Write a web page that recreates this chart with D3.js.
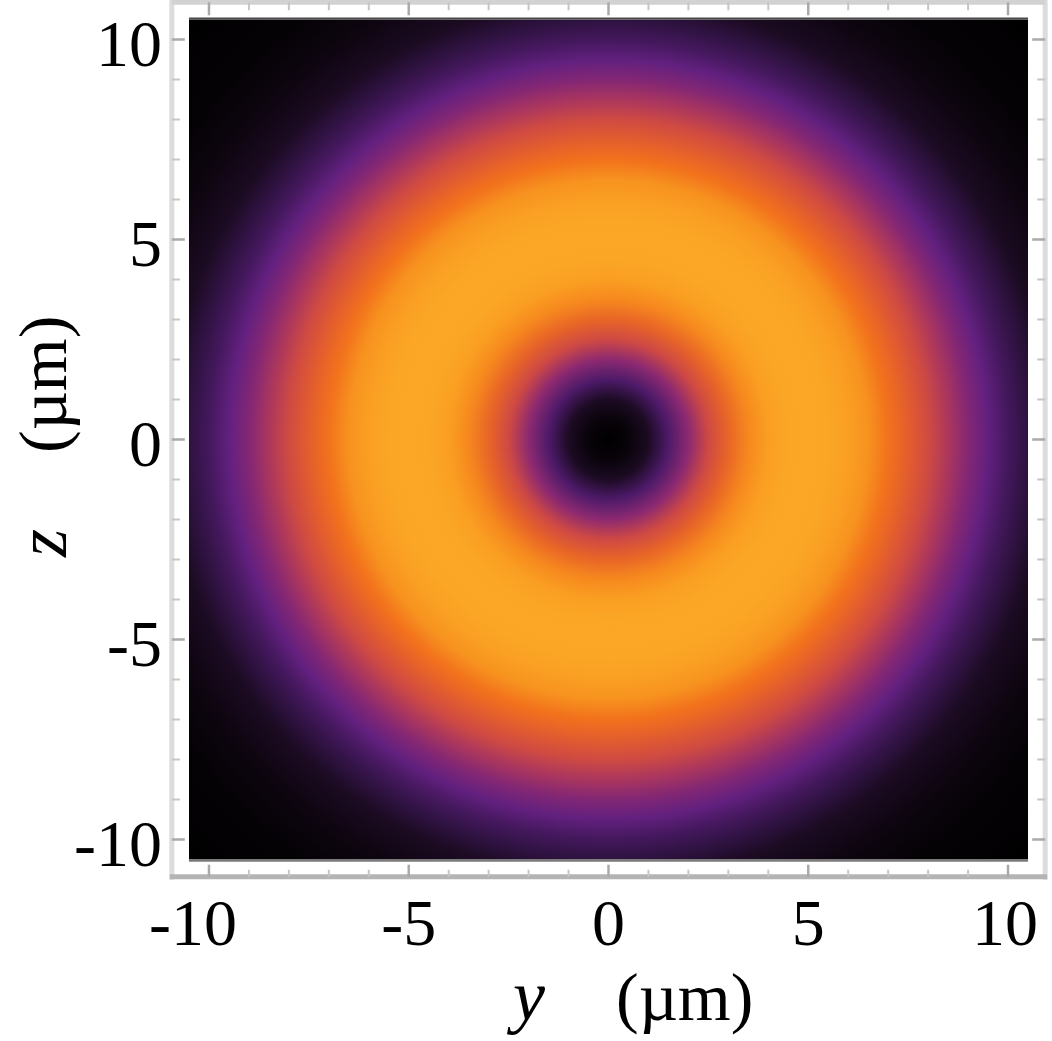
<!DOCTYPE html>
<head>
    <meta charset="utf-8">
    <script src="https://cdnjs.cloudflare.com/ajax/libs/d3/7.8.5/d3.min.js" charset="utf-8"></script>
    <style>
        html, body {
            margin: 0px;
            padding: 0px;
            background: #fff;
        }
        svg {
            display: block;
        }
        text {
            font-family: "Liberation Serif", "Times New Roman", serif;
            fill: #000;
        }
    </style>
</head>

<body>

<svg id="chart1" width="1052" height="1041"></svg>

<script>
// radial intensity profile of the ring (r in µm, peak = 1)
var radii     = [0, 0.5, 1, 1.5, 2, 2.5, 3, 3.5, 4, 4.5, 5, 5.5, 6, 6.5, 7, 7.5, 8, 8.5, 9, 9.5, 10, 10.5, 11, 12, 13, 14, 15];
var intensity = [0, 0.03, 0.10, 0.22, 0.37, 0.53, 0.68, 0.82, 0.92, 0.98, 1.0, 0.98, 0.93, 0.85, 0.75, 0.64, 0.54, 0.44, 0.35, 0.27, 0.20, 0.15, 0.10, 0.05, 0.02, 0.01, 0];

// colour function stops
var colorStops  = [0, 0.08, 0.15, 0.26, 0.38, 0.5, 0.62, 0.75, 0.87, 1];
var colorValues = ["#000000", "#150818", "#2e1240", "#5e1f80", "#902a70", "#c8434a", "#e05a30", "#f2721c", "#f89820", "#fca826"];

var majorTicks  = [-10, -5, 0, 5, 10];
var tickLabels  = ["-10", "-5", "0", "5", "10"];

var plotRange  = [-10.5, 10.5],
    frameRange = [-10.93, 10.93];

var svg = d3.select('#chart1');

var x = d3.scaleLinear().domain(plotRange).range([189, 1028]);
var y = d3.scaleLinear().domain(plotRange).range([859.5, 19.5]);
var color = d3.scaleLinear().domain(colorStops).range(colorValues);

// density as a radial gradient built from the profile
var rMax = radii[radii.length - 1];
var grad = svg.append('defs').append('radialGradient')
    .attr('id', 'ring')
    .attr('gradientUnits', 'userSpaceOnUse')
    .attr('cx', x(0)).attr('cy', y(0))
    .attr('fx', x(0)).attr('fy', y(0))
    .attr('r', x(rMax) - x(0));

grad.selectAll('stop')
    .data(radii)
    .enter().append('stop')
    .attr('offset', function(d) { return d / rMax; })
    .attr('stop-color', function(d, i) { return color(intensity[i]); });

svg.append('rect')
    .attr('x', x(plotRange[0]))
    .attr('y', y(plotRange[1]))
    .attr('width', x(plotRange[1]) - x(plotRange[0]))
    .attr('height', y(plotRange[0]) - y(plotRange[1]))
    .style('fill', 'url(#ring)');

// thin dark edges at top and bottom of the image
svg.append('line')
    .attr('x1', x(plotRange[0])).attr('x2', x(plotRange[1]))
    .attr('y1', y(plotRange[1]) - 1).attr('y2', y(plotRange[1]) - 1)
    .style('stroke', '#4a4a4a').style('stroke-width', 2);
svg.append('line')
    .attr('x1', x(plotRange[0])).attr('x2', x(plotRange[1]))
    .attr('y1', y(plotRange[0]) + 1).attr('y2', y(plotRange[0]) + 1)
    .style('stroke', '#7a7a7a').style('stroke-width', 2.5);

// frame
var fL = x(frameRange[0]), fR = x(frameRange[1]),
    fT = y(frameRange[1]), fB = y(frameRange[0]);

var frame = svg.append('g').attr('class', 'frame');
frame.append('line').attr('x1', fL).attr('x2', fL).attr('y1', fT - 3).attr('y2', fB + 3)
    .style('stroke', '#dcdcdc').style('stroke-width', 5);
frame.append('line').attr('x1', fR).attr('x2', fR).attr('y1', fT - 3).attr('y2', fB + 3)
    .style('stroke', '#dcdcdc').style('stroke-width', 5);
frame.append('line').attr('x1', fL).attr('x2', fR).attr('y1', fT).attr('y2', fT)
    .style('stroke', '#d2d2d2').style('stroke-width', 5);
frame.append('line').attr('x1', fL - 2).attr('x2', fR + 2).attr('y1', fB).attr('y2', fB)
    .style('stroke', '#b4b4b4').style('stroke-width', 5);

// ticks on all four sides
var allTicks = d3.range(-10, 11);
function isMajor(d) { return majorTicks.indexOf(d) >= 0; }
function tlen(d) { return isMajor(d) ? 13 : 8; }
function tcol(d) { return isMajor(d) ? '#aaaaaa' : '#c6c6c6'; }
function tw(d) { return isMajor(d) ? 2.5 : 2; }

var ticks = svg.append('g').attr('class', 'ticks');
ticks.selectAll('.tl').data(allTicks).enter().append('line')
    .attr('x1', fL).attr('x2', function(d) { return fL + tlen(d); })
    .attr('y1', function(d) { return y(d); }).attr('y2', function(d) { return y(d); })
    .style('stroke', tcol).style('stroke-width', tw);
ticks.selectAll('.tr').data(allTicks).enter().append('line')
    .attr('x1', fR).attr('x2', function(d) { return fR - tlen(d); })
    .attr('y1', function(d) { return y(d); }).attr('y2', function(d) { return y(d); })
    .style('stroke', tcol).style('stroke-width', tw);
ticks.selectAll('.tt').data(allTicks).enter().append('line')
    .attr('y1', fT).attr('y2', function(d) { return fT + tlen(d); })
    .attr('x1', function(d) { return x(d); }).attr('x2', function(d) { return x(d); })
    .style('stroke', tcol).style('stroke-width', tw);
ticks.selectAll('.tb').data(allTicks).enter().append('line')
    .attr('y1', fB).attr('y2', function(d) { return fB - tlen(d) + 1; })
    .attr('x1', function(d) { return x(d); }).attr('x2', function(d) { return x(d); })
    .style('stroke', tcol).style('stroke-width', tw);

// tick labels
svg.append('g').selectAll('text').data(majorTicks).enter().append('text')
    .attr('x', 162)
    .attr('y', function(d) { return y(d) + 26; })
    .attr('text-anchor', 'end')
    .style('font-size', '66px')
    .text(function(d, i) { return tickLabels[i]; });

svg.append('g').selectAll('text').data(majorTicks).enter().append('text')
    .attr('x', function(d, i) { return x(d) + (i === 0 ? -16 : (i === 4 ? -3 : 0)); })
    .attr('y', 945)
    .attr('text-anchor', 'middle')
    .style('font-size', '66px')
    .text(function(d, i) { return tickLabels[i]; });

// axis titles
var xt = svg.append('text')
    .attr('x', 513).attr('y', 1020)
    .style('font-size', '68px');
xt.append('tspan').style('font-style', 'italic').style('font-size', '72px').text('y');
xt.append('tspan').attr('x', 616).text('(µm)');

var yt = svg.append('text')
    .attr('transform', 'translate(66,557) rotate(-90)')
    .style('font-size', '68px');
yt.append('tspan').style('font-style', 'italic').style('font-size', '72px').text('z');
yt.append('tspan').attr('x', 104).text('(µm)');
</script>

</body>
</html>
